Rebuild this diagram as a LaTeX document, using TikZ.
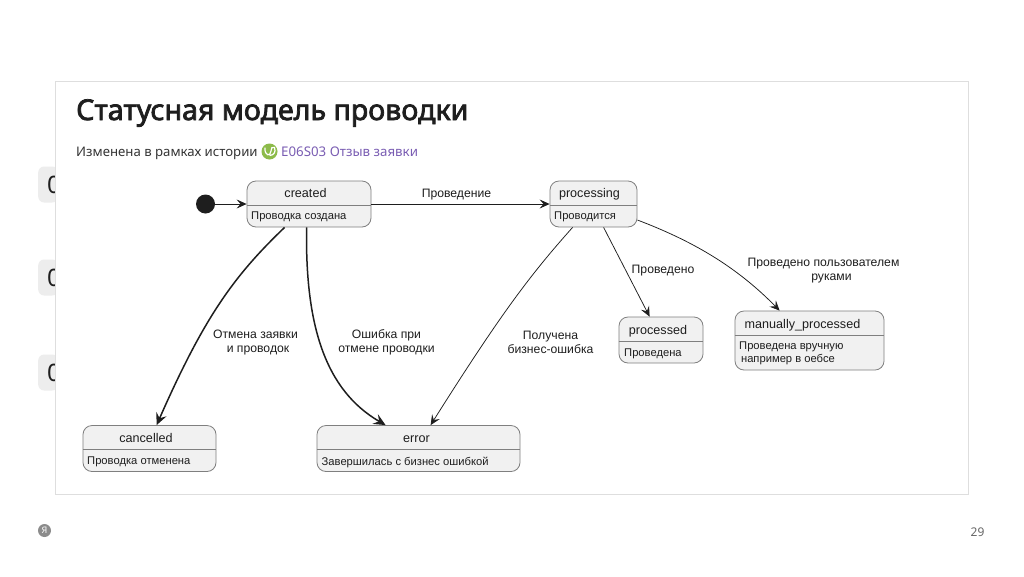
\documentclass[tikz,border=0pt]{standalone}
\usepackage{fontspec}
\setmainfont{Liberation Sans}
\newfontfamily\uifont{Noto Sans}
\newfontfamily\titlefont{Noto Sans}[FakeBold=2.6]
\usetikzlibrary{arrows.meta,calc}
\definecolor{statefill}{HTML}{F1F1F1}
\definecolor{stateline}{HTML}{7F7F7F}
\definecolor{ink}{HTML}{1E1E1E}
\definecolor{linkc}{HTML}{7A5DB3}
\definecolor{iconc}{HTML}{8DBB4A}
\tikzset{
  statebox/.style={draw=stateline,fill=statefill,line width=0.8pt,rounded corners=9pt,inner sep=0pt,minimum width=#1},
  statename/.style={font=\fontsize{12.6}{14}\selectfont,text=ink,inner sep=0pt,anchor=base},
  statedesc/.style={font=\fontsize{11.2}{13}\selectfont,text=ink,inner sep=0pt,anchor=west,align=left},
  edgelabel/.style={font=\fontsize{12.2}{14}\selectfont,text=ink,inner sep=0pt,align=center},
  thinedge/.style={draw=ink,line width=0.75pt,-{Stealth[length=10pt,width=9pt,inset=4pt]}},
  thickedge/.style={draw=ink,line width=1.5pt,-{Stealth[length=12pt,width=11pt,inset=4.5pt]}},
  sidetab/.style={fill=black!7,rounded corners=6pt,minimum width=20pt,minimum height=36pt,inner sep=0pt},
}
\newcommand{\stateframe}[6]{%
  \node[statebox=#4pt,minimum height=#5pt] (#1) at (#2,#3) {};
  \draw[stateline,line width=0.8pt] (#1.west |- 0,#6) -- (#1.east |- 0,#6);
}
\begin{document}
\begin{tikzpicture}[x=1pt,y=-1pt]
\useasboundingbox (0,0) rectangle (1024,576);
\fill[white] (0,0) rectangle (1024,576);
% tabs behind panel
\node[sidetab,anchor=west] (tabA) at (38,184.5) {};
\node[sidetab,anchor=west] (tabB) at (38,277.5) {};
\node[sidetab,anchor=west] (tabC) at (38,372.5) {};
\node[font=\uifont\fontsize{24}{26}\selectfont,text=ink,anchor=west,inner sep=0pt] (numA) at (47,184.5) {0};
\node[font=\uifont\fontsize{24}{26}\selectfont,text=ink,anchor=west,inner sep=0pt] (numB) at (47,277.5) {0};
\node[font=\uifont\fontsize{24}{26}\selectfont,text=ink,anchor=west,inner sep=0pt] (numC) at (47,372.5) {0};
% panel
\draw[draw=black!13,fill=white,line width=0.8pt] (55.5,81.5) rectangle (968.5,494.5);
\node[font=\titlefont\fontsize{28.6}{30}\selectfont,text=ink,anchor=base west,inner sep=0pt] (title) at (76,120) {Статусная модель проводки};
\node[font=\uifont\fontsize{13.2}{16}\selectfont,text=ink!90,anchor=base west,inner sep=0pt] (sub) at (76,156) {Изменена в рамках истории};
\fill[iconc] (269.5,151.5) circle (8);
\draw[white,line width=1.2pt,line cap=round] (265,148) .. controls (264.5,156) and (270.5,157) .. (271,151) (270,155.5) .. controls (274,155) and (276,152) .. (274.5,147.5) .. controls (272.5,146) and (270.5,148.5) .. (271,151);
\node[font=\uifont\fontsize{13.3}{16}\selectfont,text=linkc,anchor=base west,inner sep=0pt] (link) at (281,156) {E06S03 Отзыв заявки};
% states
\stateframe{created}{309}{204}{124}{46}{205.5}
\node[statename] (createdname) at (305.5,197.5) {created};
\node[statedesc] (createddesc) at (251,217) {Проводка создана};
\stateframe{processing}{593.5}{204}{87}{46}{205.5}
\node[statename] (processingname) at (589.5,197.5) {processing};
\node[statedesc] (processingdesc) at (554,217) {Проводится};
\stateframe{processed}{661}{340}{84}{46}{341.5}
\node[statename] (processedname) at (658,334) {processed};
\node[statedesc] (processeddesc) at (624,353.5) {Проведена};
\stateframe{manually}{809.5}{340.5}{149}{59}{335}
\node[statename] (manuallyname) at (802.5,328) {manually\_processed};
\node[statedesc] (manuallydesc) at (739,353.5) {Проведена вручную\\ \,например в оебсе};
\stateframe{cancelled}{149.5}{448.5}{133}{46}{449.5}
\node[statename] (cancelledname) at (146,442.5) {cancelled};
\node[statedesc] (cancelleddesc) at (87,462) {Проводка отменена};
\stateframe{error}{418.5}{448.5}{203}{46}{449.5}
\node[statename] (errorname) at (416.5,442.5) {error};
\node[statedesc] (errordesc) at (321.5,462) {Завершилась с бизнес ошибкой};
% start
\node[fill=ink,circle,minimum size=19pt,inner sep=0pt] (start) at (205.5,204) {};
% edges
\draw[thinedge] (start) -- (created);
\draw[thinedge] (created.east) -- (processing.west);
\draw[thickedge] ($(created.south west)+(38,0)$) .. controls (235,275) and (205,315) .. ($(cancelled.north west)+(74,0)$);
\draw[thickedge] ($(created.south west)+(60,0)$) .. controls (305,325) and (325,390) .. ($(error.north west)+(69,0)$);
\draw[thinedge] ($(processing.south west)+(23,0)$) .. controls (530,275) and (500,315) .. ($(error.north west)+(114,0)$);
\draw[thinedge] ($(processing.south west)+(54,0)$) -- ($(processed.north west)+(31,0)$);
\draw[thinedge] ($(processing.east)+(0,16)$) .. controls (690,240) and (735,265) .. ($(manually.north west)+(45,0)$);
% edge labels
\node[edgelabel] (l1) at (456.5,194.5) {Проведение};
\node[edgelabel] (l2) at (255.5,342) {Отмена заявки\\\hspace*{5pt}и проводок};
\node[edgelabel] (l3) at (386.5,342) {Ошибка при\\отмене проводки};
\node[edgelabel] (l4) at (550.5,342) {Получена\\бизнес-ошибка};
\node[edgelabel] (l5) at (663,271) {Проведено};
\node[edgelabel] (l6) at (823.5,271) {Проведено пользователем\\\hspace*{16pt}руками};
% footer
\node[fill=black!45,circle,minimum size=13pt,inner sep=0pt,text=white,font=\uifont\bfseries\fontsize{9}{10}\selectfont] (logo) at (44.5,530.5) {Я};
\node[font=\uifont\fontsize{12}{14}\selectfont,text=black!60,inner sep=0pt] (page) at (977.5,532.5) {29};
\end{tikzpicture}
\end{document}
